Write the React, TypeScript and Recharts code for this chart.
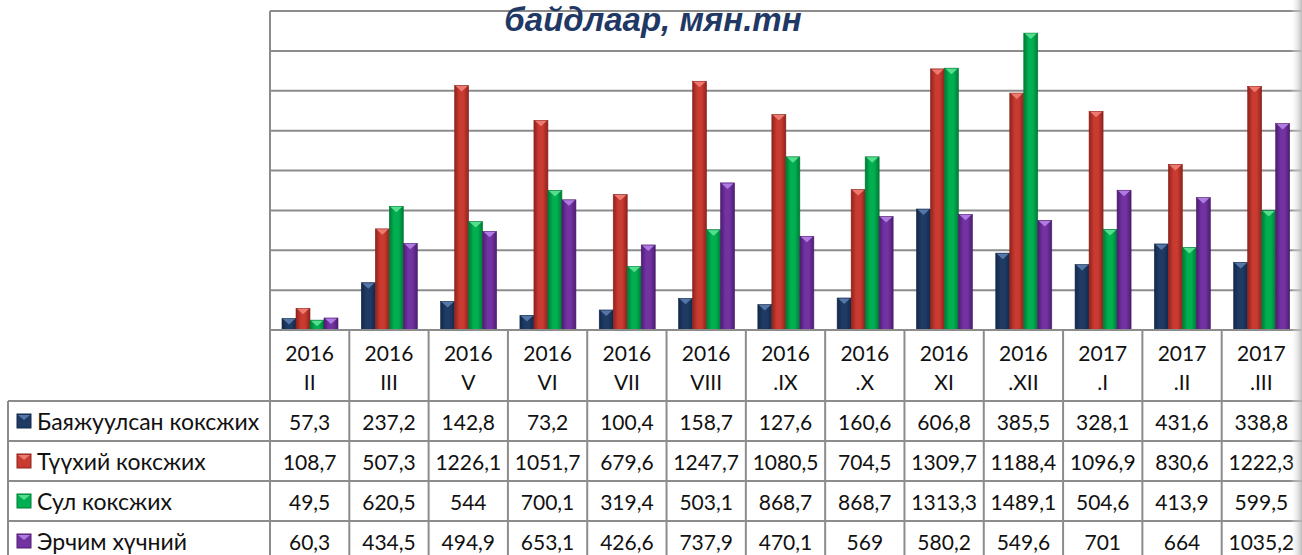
import React from 'react';
import { BarChart, Bar, XAxis, YAxis, CartesianGrid } from 'recharts';

// category labels (two lines in the data table header)
const years = ['2016', '2016', '2016', '2016', '2016', '2016', '2016', '2016', '2016', '2016', '2017', '2017', '2017'];
const months = ['II', 'III', 'V', 'VI', 'VII', 'VIII', '.IX', '.X', 'XI', '.XII', '.I', '.II', '.III'];

const bayajuulsan = [57.3, 237.2, 142.8, 73.2, 100.4, 158.7, 127.6, 160.6, 606.8, 385.5, 328.1, 431.6, 338.8];
const tuukhii = [108.7, 507.3, 1226.1, 1051.7, 679.6, 1247.7, 1080.5, 704.5, 1309.7, 1188.4, 1096.9, 830.6, 1222.3];
const sul = [49.5, 620.5, 544, 700.1, 319.4, 503.1, 868.7, 868.7, 1313.3, 1489.1, 504.6, 413.9, 599.5];
const erchim = [60.3, 434.5, 494.9, 653.1, 426.6, 737.9, 470.1, 569, 580.2, 549.6, 701, 664, 1035.2];

const yTicks = [0, 200, 400, 600, 800, 1000, 1200, 1400, 1600];

const series = [
  { key: 'bayajuulsan', name: 'Баяжуулсан коксжих', values: bayajuulsan, base: '#1F3B64', dark: '#12284A', light: '#5577A8' },
  { key: 'tuukhii', name: 'Түүхий коксжих', values: tuukhii, base: '#C93A30', dark: '#8E231D', light: '#EC7A70' },
  { key: 'sul', name: 'Сул коксжих', values: sul, base: '#00B050', dark: '#007A35', light: '#55DD90' },
  { key: 'erchim', name: 'Эрчим хүчний', values: erchim, base: '#7232A2', dark: '#4C1D70', light: '#B07BE0' },
];

const data = months.map((m, i) => {
  const row: any = { cat: years[i] + ' ' + m };
  series.forEach(s => { row[s.key] = s.values[i]; });
  return row;
});

const W = 1302;
const H = 555;
const LEFT = 270;
const RIGHT = 1;
const TOP = 11;
const BASE = 330;
const BAND = (W - LEFT - RIGHT) / months.length;
const ROW_TOP = 401;
const ROW_H = 40;
const GRID = '#8C8C8C';
const FONT = "Lato, 'Open Sans', 'Noto Sans', sans-serif";

const fmt = (v: number) => String(v).replace('.', ',');

const TableTick = (props: any) => {
  const { x, index } = props;
  const i = props.payload?.index ?? index;
  const left = x - BAND / 2;
  return (
    <g>
      <line x1={left} y1={BASE} x2={left} y2={H} stroke={GRID} strokeWidth={2} />
      <text x={x} y={352} textAnchor="middle" dominantBaseline="central" fontFamily={FONT} fontSize={21} fill="#111">{years[i]}</text>
      <text x={x} y={381} textAnchor="middle" dominantBaseline="central" fontFamily={FONT} fontSize={21} fill="#111">{months[i]}</text>
      {series.map((s, r) => (
        <text key={s.key} x={x} y={ROW_TOP + r * ROW_H + ROW_H / 2} textAnchor="middle" dominantBaseline="central" fontFamily={FONT} fontSize={21} fill="#111">
          {fmt(s.values[i])}
        </text>
      ))}
    </g>
  );
};

const bevelShape = (si: number) => (props: any) => {
  const { x, y, width, height } = props;
  if (!height || height <= 0) return <g />;
  const s = series[si];
  const cap = Math.min(6, height);
  return (
    <g>
      <rect x={x} y={y} width={width} height={height} fill={`url(#bar-${si})`} stroke={s.dark} strokeWidth={0.6} />
      <polygon points={`${x + 1},${y + 0.5} ${x + width - 1},${y + 0.5} ${x + width / 2},${y + cap}`} fill={s.light} />
    </g>
  );
};

const Icon = ({ si, x, y }: { si: number; x: number; y: number }) => {
  const s = series[si];
  return (
    <g>
      <rect x={x} y={y} width={14} height={14} fill={s.base} stroke={s.dark} strokeWidth={1} />
      <polygon points={`${x + 1},${y + 1} ${x + 13},${y + 1} ${x + 7},${y + 6}`} fill={s.light} />
    </g>
  );
};

export default function App() {
  return (
    <div style={{ position: 'absolute', left: 0, top: 0, width: W, height: H, background: '#fff', overflow: 'hidden' }}>
      <BarChart width={W} height={H} data={data} margin={{ top: TOP, right: RIGHT, left: LEFT, bottom: 0 }} barSize={14} barGap={0}>
        <defs>
          {series.map((s, i) => (
            <linearGradient key={s.key} id={`bar-${i}`} x1="0" y1="0" x2="1" y2="0">
              <stop offset="0%" stopColor={s.dark} />
              <stop offset="35%" stopColor={s.base} />
              <stop offset="65%" stopColor={s.base} />
              <stop offset="100%" stopColor={s.dark} />
            </linearGradient>
          ))}
        </defs>
        <CartesianGrid horizontal vertical={false} stroke={GRID} strokeWidth={2} />
        <YAxis hide width={0} domain={[0, 1600]} ticks={yTicks} />
        <XAxis
          dataKey="cat"
          height={H - BASE}
          interval={0}
          tickLine={false}
          axisLine={{ stroke: GRID, strokeWidth: 2 }}
          tick={<TableTick />}
        />
        {series.map((s, i) => (
          <Bar key={s.key} dataKey={s.key} name={s.name} fill={s.base} shape={bevelShape(i)} isAnimationActive={false} />
        ))}
      </BarChart>
      <svg width={W} height={H} style={{ position: 'absolute', left: 0, top: 0, pointerEvents: 'none' }}>
        <defs>
          <linearGradient id="edge-shadow" x1="0" y1="0" x2="1" y2="0">
            <stop offset="0%" stopColor="#ffffff" stopOpacity={0} />
            <stop offset="100%" stopColor="#b5b5b5" stopOpacity={0.9} />
          </linearGradient>
        </defs>
        <line x1={LEFT} y1={TOP} x2={LEFT} y2={H} stroke={GRID} strokeWidth={2} />
        <line x1={8} y1={ROW_TOP} x2={8} y2={H} stroke={GRID} strokeWidth={2} />
        {series.map((s, r) => (
          <g key={s.key}>
            <line x1={8} y1={ROW_TOP + r * ROW_H} x2={W} y2={ROW_TOP + r * ROW_H} stroke={GRID} strokeWidth={2} />
            <Icon si={r} x={17} y={ROW_TOP + r * ROW_H + 13} />
            <text x={37} y={ROW_TOP + r * ROW_H + ROW_H / 2} dominantBaseline="central" fontFamily={FONT} fontSize={23} fill="#111">
              {s.name}
            </text>
          </g>
        ))}
        <rect x={W - 12} y={0} width={12} height={H} fill="url(#edge-shadow)" />
      </svg>
      <div
        style={{
          position: 'absolute',
          left: 0,
          width: W + 4,
          top: 0,
          textAlign: 'center',
          fontFamily: "'Liberation Sans', Arial, sans-serif",
          fontWeight: 'bold',
          fontStyle: 'italic',
          fontSize: 33,
          lineHeight: '40px',
          color: '#1F3864',
        }}
      >
        байдлаар, мян.тн
      </div>
    </div>
  );
}
